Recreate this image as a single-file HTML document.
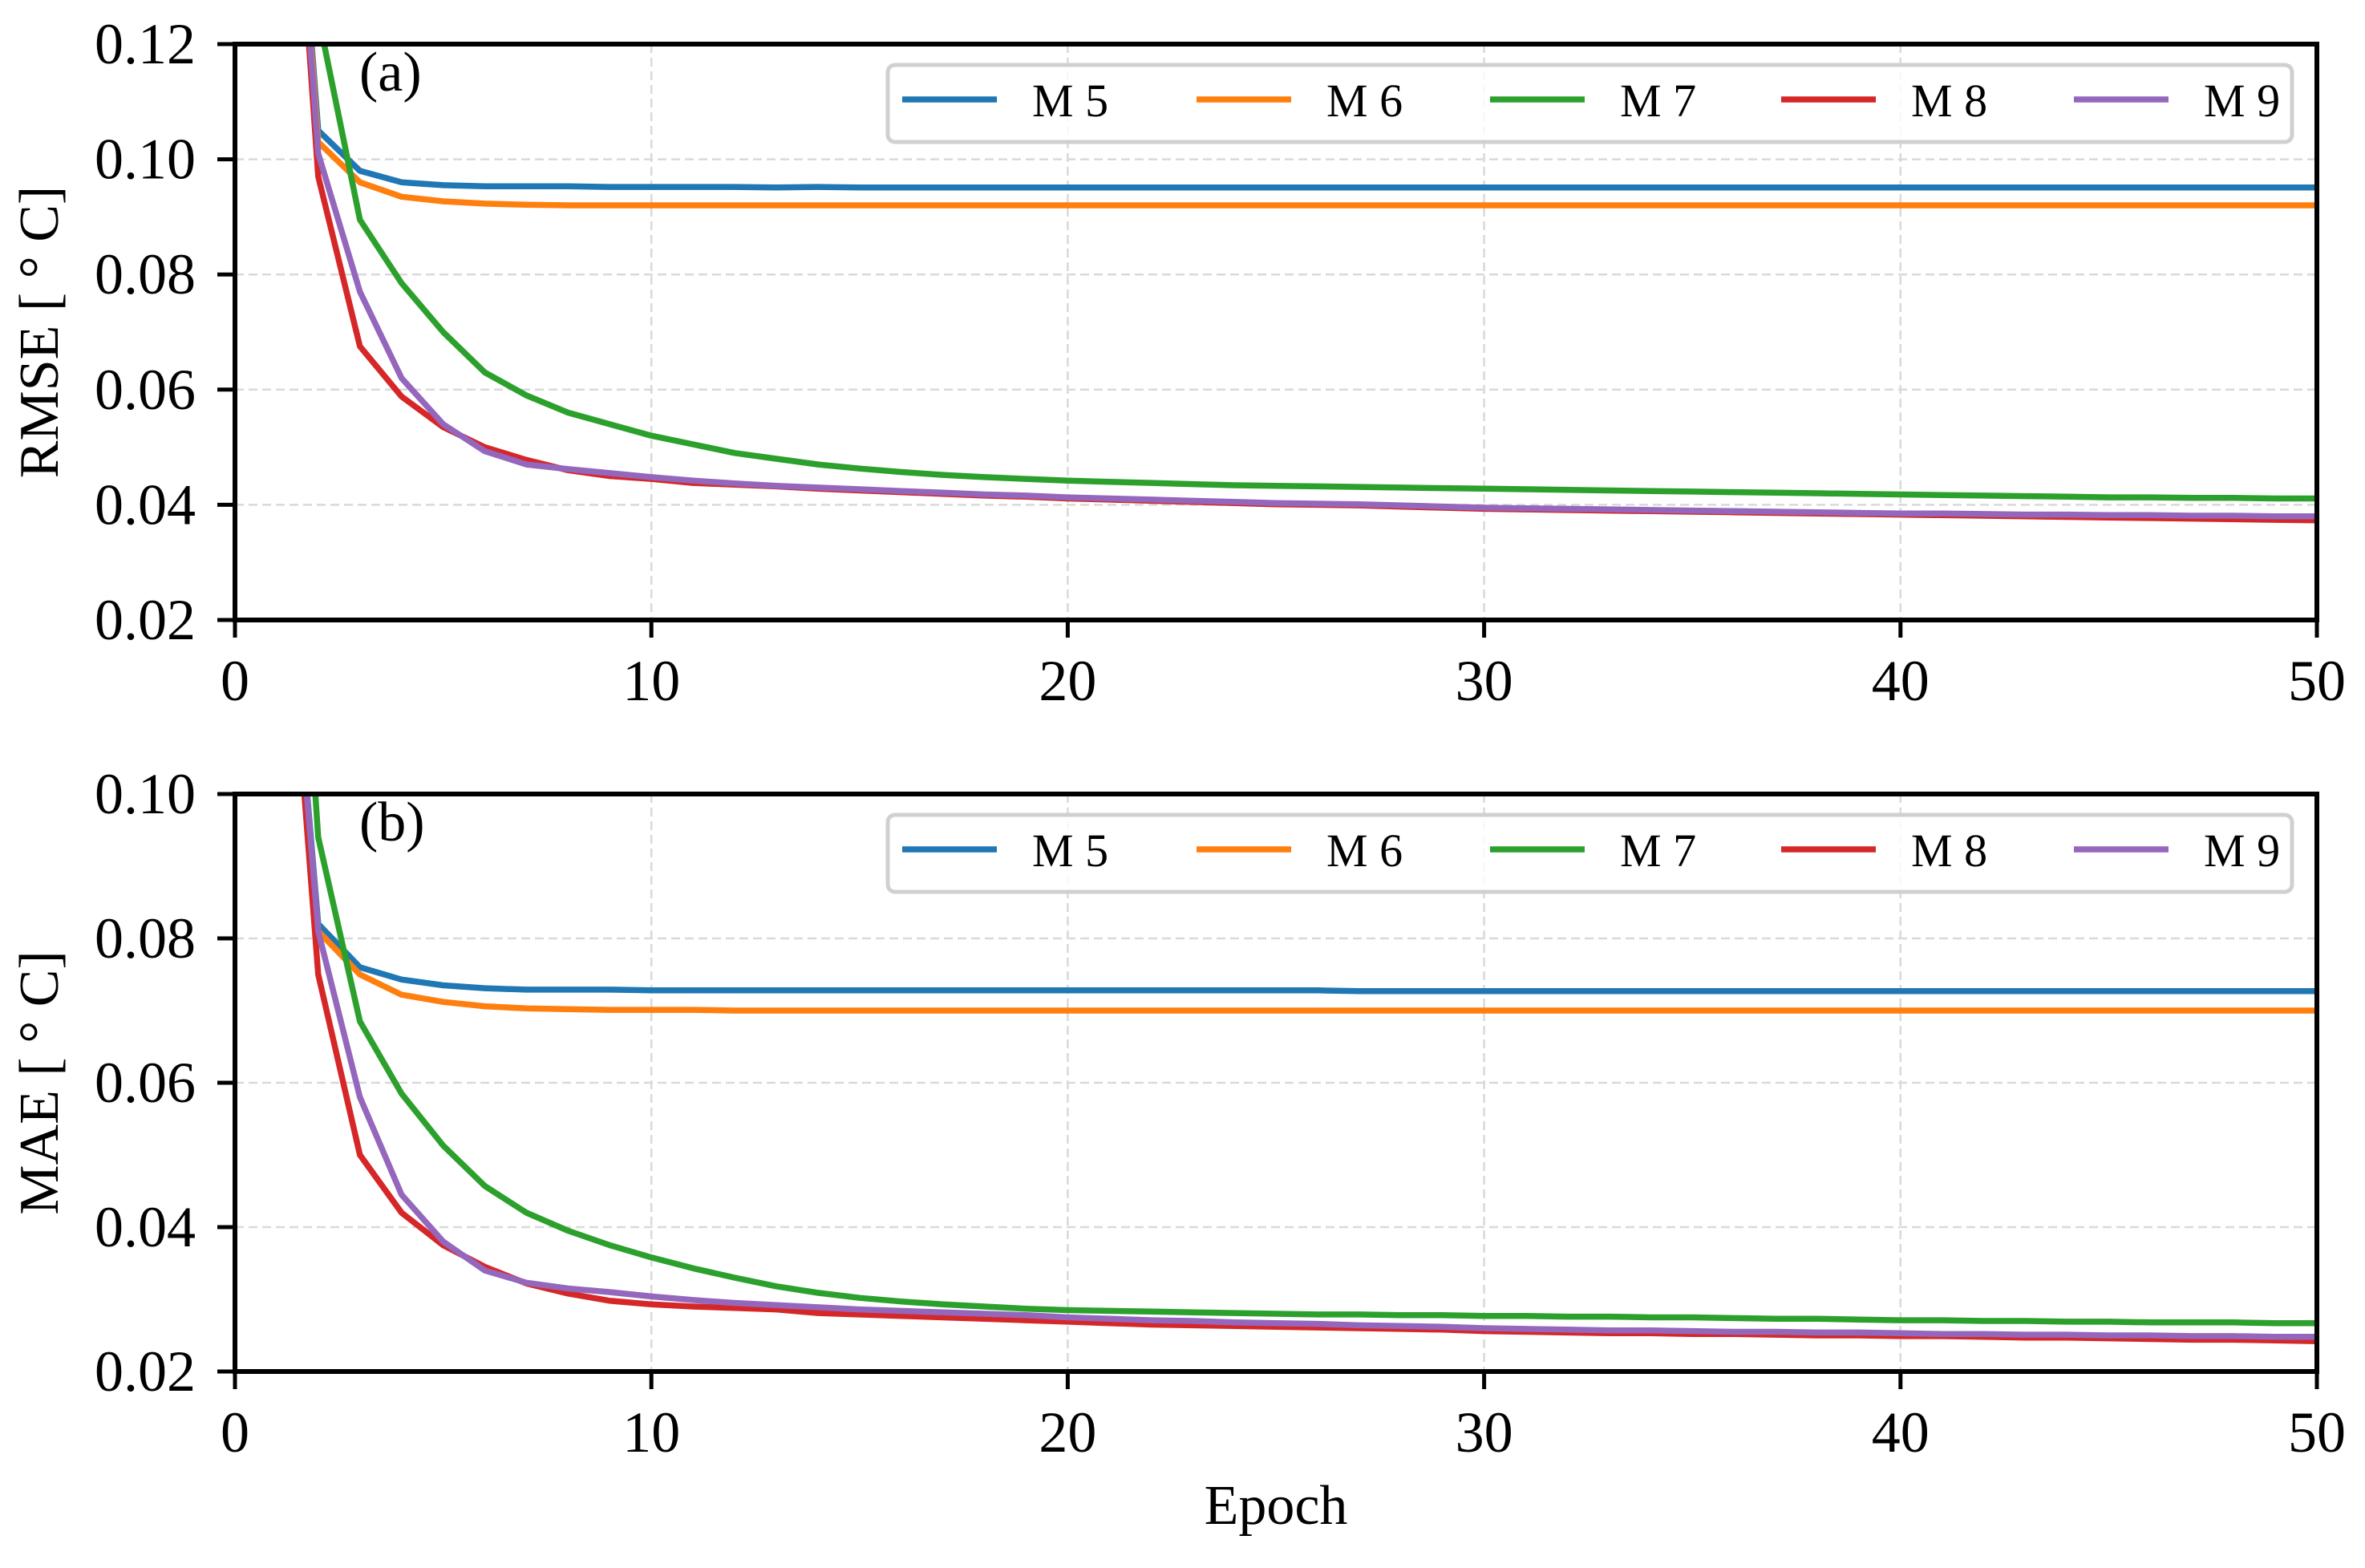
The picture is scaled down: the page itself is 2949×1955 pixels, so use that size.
<!DOCTYPE html>
<html><head><meta charset="utf-8"><style>
html,body{margin:0;padding:0;background:#fff;}
svg{display:block;font-family:"Liberation Serif",serif;}
</style></head><body>
<svg id="chart" width="2949" height="1955" viewBox="0 0 2949 1955"></svg>
<script>
const epochs = Array.from({length:50},(_,i)=>i+1);
const seriesNames = ["M 5","M 6","M 7","M 8","M 9"];
const seriesColors = ["#1f77b4","#ff7f0e","#2ca02c","#d62728","#9467bd"];
const xTicks = [0,10,20,30,40,50];
const rmseTicks = ["0.02","0.04","0.06","0.08","0.10","0.12"];
const maeTicks = ["0.02","0.04","0.06","0.08","0.10"];

const rmseM5 = [0.20,0.105,0.098,0.096,0.0955,0.0953,0.0953,0.0953,0.0952,0.0952,0.0952,0.0952,0.0951,0.0952,0.0951,0.0951,0.0951,0.0951,0.0951,0.0951,0.0951,0.0951,0.0951,0.0951,0.0951,0.0951,0.0951,0.0951,0.0951,0.0951,0.0951,0.0951,0.0951,0.0951,0.0951,0.0951,0.0951,0.0951,0.0951,0.0951,0.0951,0.0951,0.0951,0.0951,0.0951,0.0951,0.0951,0.0951,0.0951,0.0951];
const rmseM6 = [0.20,0.103,0.096,0.0935,0.0927,0.0923,0.0921,0.092,0.092,0.092,0.092,0.092,0.092,0.092,0.092,0.092,0.092,0.092,0.092,0.092,0.092,0.092,0.092,0.092,0.092,0.092,0.092,0.092,0.092,0.092,0.092,0.092,0.092,0.092,0.092,0.092,0.092,0.092,0.092,0.092,0.092,0.092,0.092,0.092,0.092,0.092,0.092,0.092,0.092,0.092];
const rmseM7 = [0.25,0.125,0.0895,0.0785,0.070,0.063,0.059,0.056,0.054,0.052,0.0505,0.049,0.048,0.047,0.0463,0.0457,0.0452,0.0448,0.0445,0.0442,0.044,0.0438,0.0436,0.0434,0.0433,0.0432,0.0431,0.043,0.0429,0.0428,0.0427,0.0426,0.0425,0.0424,0.0423,0.0422,0.0421,0.042,0.0419,0.0418,0.0417,0.0416,0.0415,0.0414,0.0413,0.0413,0.0412,0.0412,0.0411,0.0411];
const rmseM8 = [0.20,0.097,0.0675,0.0588,0.0535,0.050,0.0478,0.046,0.045,0.0445,0.0438,0.0435,0.0432,0.0428,0.0425,0.0422,0.0419,0.0416,0.0414,0.0411,0.0409,0.0407,0.0405,0.0403,0.0401,0.04,0.0399,0.0397,0.0395,0.0393,0.0392,0.0391,0.039,0.0389,0.0388,0.0387,0.0386,0.0385,0.0384,0.0383,0.0382,0.0381,0.038,0.0379,0.0378,0.0377,0.0376,0.0375,0.0374,0.0373];
const rmseM9 = [0.20,0.101,0.077,0.062,0.054,0.0493,0.047,0.0462,0.0455,0.0448,0.0442,0.0437,0.0433,0.043,0.0427,0.0424,0.0421,0.0418,0.0416,0.0413,0.0411,0.0409,0.0407,0.0405,0.0403,0.0402,0.0401,0.0399,0.0397,0.0395,0.0394,0.0393,0.0392,0.0391,0.039,0.0389,0.0388,0.0387,0.0386,0.0385,0.0385,0.0384,0.0383,0.0383,0.0382,0.0382,0.0381,0.0381,0.038,0.038];

const maeM5 = [0.15,0.082,0.076,0.0743,0.0735,0.0731,0.0729,0.0729,0.0729,0.0728,0.0728,0.0728,0.0728,0.0728,0.0728,0.0728,0.0728,0.0728,0.0728,0.0728,0.0728,0.0728,0.0728,0.0728,0.0728,0.0728,0.0727,0.0727,0.0727,0.0727,0.0727,0.0727,0.0727,0.0727,0.0727,0.0727,0.0727,0.0727,0.0727,0.0727,0.0727,0.0727,0.0727,0.0727,0.0727,0.0727,0.0727,0.0727,0.0727,0.0727];
const maeM6 = [0.15,0.081,0.075,0.0722,0.0712,0.0706,0.0703,0.0702,0.0701,0.0701,0.0701,0.070,0.070,0.070,0.070,0.070,0.070,0.070,0.070,0.070,0.070,0.070,0.070,0.070,0.070,0.070,0.070,0.070,0.070,0.070,0.070,0.070,0.070,0.070,0.070,0.070,0.070,0.070,0.070,0.070,0.070,0.070,0.070,0.070,0.070,0.070,0.070,0.070,0.070,0.070];
const maeM7 = [0.18,0.094,0.0685,0.0585,0.0513,0.0457,0.042,0.0395,0.0375,0.0358,0.0343,0.033,0.0318,0.0309,0.0302,0.0297,0.0293,0.029,0.0287,0.0285,0.0284,0.0283,0.0282,0.0281,0.028,0.0279,0.0279,0.0278,0.0278,0.0277,0.0277,0.0276,0.0276,0.0275,0.0275,0.0274,0.0273,0.0273,0.0272,0.0271,0.0271,0.027,0.027,0.0269,0.0269,0.0268,0.0268,0.0268,0.0267,0.0267];
const maeM8 = [0.15,0.075,0.050,0.042,0.0375,0.0345,0.0322,0.0308,0.0298,0.0293,0.029,0.0288,0.0286,0.0281,0.0279,0.0277,0.0275,0.0273,0.0271,0.0269,0.0267,0.0265,0.0264,0.0263,0.0262,0.0261,0.026,0.0259,0.0258,0.0256,0.0255,0.0254,0.0253,0.0253,0.0252,0.0252,0.0251,0.025,0.025,0.0249,0.0249,0.0248,0.0247,0.0247,0.0246,0.0245,0.0244,0.0244,0.0243,0.0242];
const maeM9 = [0.15,0.081,0.058,0.0445,0.038,0.034,0.0323,0.0315,0.031,0.0304,0.0299,0.0295,0.0292,0.0289,0.0286,0.0284,0.0282,0.028,0.0278,0.0275,0.0273,0.0271,0.027,0.0268,0.0267,0.0266,0.0264,0.0263,0.0262,0.026,0.0259,0.0258,0.0257,0.0257,0.0256,0.0255,0.0255,0.0254,0.0254,0.0253,0.0252,0.0252,0.0251,0.0251,0.025,0.025,0.0249,0.0249,0.0248,0.0248];

const NS="http://www.w3.org/2000/svg";
const svg=document.getElementById('chart');
function mk(tag,attrs,parent){const e=document.createElementNS(NS,tag);for(const k in attrs)e.setAttribute(k,attrs[k]);(parent||svg).appendChild(e);return e;}

const X0=293,X1=2889;
function xs(v){return X0+(v-0)/(50-0)*(X1-X0);}

function panel(cfg){
  const g=mk('g',{});
  
  
  const ys=v=>cfg.yb+(v-cfg.ymin)/(cfg.ymax-cfg.ymin)*(cfg.yt-cfg.yb);
  const cid='clip-'+cfg.name;
  const cp=mk('clipPath',{id:cid},g);
  mk('rect',{x:X0,y:cfg.yt,width:X1-X0,height:cfg.yb-cfg.yt},cp);
  xTicks.forEach(t=>{
    const l=mk('line',{x1:xs(t),x2:xs(t),y1:cfg.yt,y2:cfg.yb,stroke:'#d9d9d9','stroke-width':2.5,'stroke-dasharray':'11 6'},g);
    
    
  });
  cfg.ticks.forEach(t=>{
    const v=parseFloat(t);
    const l=mk('line',{x1:X0,x2:X1,y1:ys(v),y2:ys(v),stroke:'#d9d9d9','stroke-width':2.5,'stroke-dasharray':'11 6'},g);
    
    
  });
  const lg=mk('g',{'clip-path':'url(#'+cid+')'},g);
  cfg.series.forEach((arr,i)=>{
    const d=arr.map((v,j)=>(j?'L':'M')+xs(epochs[j]).toFixed(1)+','+ys(v).toFixed(1)).join(' ');
    const p=mk('path',{d:d,fill:'none',stroke:seriesColors[i],'stroke-width':7.5,'stroke-linejoin':'round'},lg);
    
    
  });
  const fr=mk('rect',{x:X0,y:cfg.yt,width:X1-X0,height:cfg.yb-cfg.yt,fill:'none',stroke:'#000','stroke-width':6},g);
  
  
  xTicks.forEach(t=>{
    mk('line',{x1:xs(t),x2:xs(t),y1:cfg.yb,y2:cfg.yb+22,stroke:'#000','stroke-width':5},g);
    const tx=mk('text',{x:xs(t),y:cfg.yb+100,'font-size':72,'text-anchor':'middle',fill:'#000'},g);
    tx.textContent=t;
    
    
  });
  cfg.ticks.forEach(t=>{
    const v=parseFloat(t);
    mk('line',{x1:X0-22,x2:X0,y1:ys(v),y2:ys(v),stroke:'#000','stroke-width':5},g);
    const tx=mk('text',{x:244,y:ys(v)+24,'font-size':72,'text-anchor':'end',fill:'#000'},g);
    tx.textContent=t;
    
    
  });
  const yl=mk('text',{x:0,y:0,'font-size':70,'text-anchor':'middle',fill:'#000',transform:'translate(72,'+((cfg.yt+cfg.yb)/2)+') rotate(-90)'},g);
  yl.textContent=cfg.ylabel;
  
  
  const pl=mk('text',{x:448,y:cfg.yt+58,'font-size':70,fill:'#000'},g);
  pl.textContent=cfg.tag;
  
  
  const leg=mk('g',{},g);
  
  
  const ly=cfg.yt+26;
  mk('rect',{x:1107,y:ly,width:1751,height:96,rx:9,fill:'#fff','fill-opacity':0.8,stroke:'#d0d0d0','stroke-width':5},leg);
  const lx=[1125,1492,1858,2221,2586];
  seriesNames.forEach((n,i)=>{
    const e=mk('g',{},leg);
    
    
    mk('line',{x1:lx[i],x2:lx[i]+118,y1:ly+43,y2:ly+43,stroke:seriesColors[i],'stroke-width':7.5},e);
    const t=mk('text',{x:lx[i]+162,y:ly+64,'font-size':58,fill:'#000'},e);
    t.textContent=n;
  });
}
panel({name:'rmse-panel',yt:55,yb:773,ymin:0.02,ymax:0.12,ticks:rmseTicks,ylabel:'RMSE [ ° C]',tag:'(a)',series:[rmseM5,rmseM6,rmseM7,rmseM8,rmseM9]});
panel({name:'mae-panel',yt:990,yb:1710,ymin:0.02,ymax:0.10,ticks:maeTicks,ylabel:'MAE [ ° C]',tag:'(b)',series:[maeM5,maeM6,maeM7,maeM8,maeM9]});
const xt=mk('text',{x:1591,y:1900,'font-size':70,'text-anchor':'middle',fill:'#000'});
xt.textContent='Epoch';


</script>
</body></html>
